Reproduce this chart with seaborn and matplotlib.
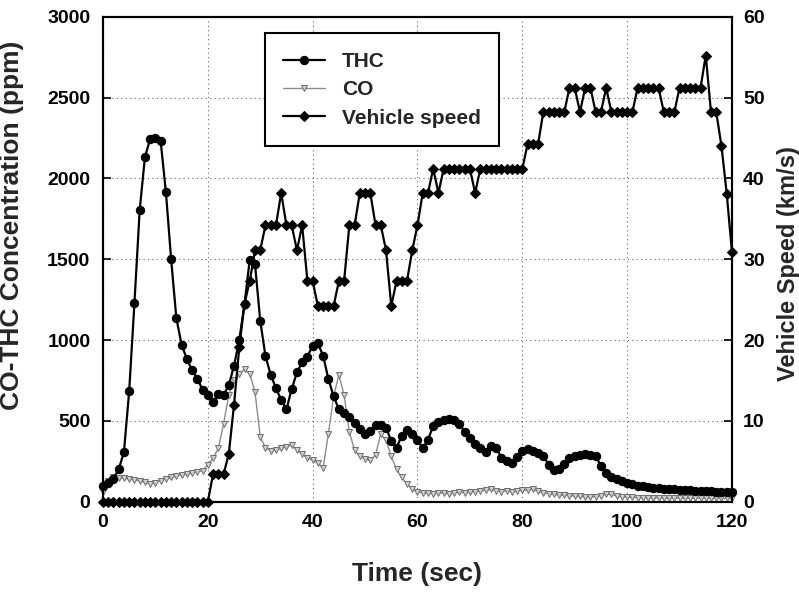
import numpy as np
import pandas as pd
import matplotlib
matplotlib.use("Agg")
import matplotlib.pyplot as plt
import seaborn as sns

# ---------------- data ----------------
time_sec = list(range(0, 121))

thc_ppm = [100, 115, 143, 200, 308, 686, 1229, 1803, 2131, 2244,
           2250, 2230, 1917, 1500, 1134, 971, 882, 814, 762, 692,
           659, 614, 669, 659, 721, 841, 1000, 1223, 1498, 1470,
           1120, 900, 785, 702, 630, 572, 696, 800, 862, 897,
           965, 979, 903, 760, 651, 572, 547, 527, 486, 448,
           421, 438, 475, 475, 459, 376, 335, 407, 444, 421,
           382, 331, 382, 470, 490, 505, 510, 505, 479, 432,
           397, 359, 331, 310, 345, 335, 273, 250, 242, 275,
           314, 324, 314, 304, 285, 230, 195, 200, 231, 273,
           283, 290, 293, 290, 283, 221, 175, 150, 138, 126,
           118, 110, 100, 95, 90, 86, 83, 80, 78, 76,
           74, 72, 70, 68, 67, 66, 64, 63, 62, 61, 60]

co_ppm = [60, 130, 150, 148, 145, 140, 135, 128, 120, 110,
          118, 130, 140, 150, 160, 165, 170, 178, 185, 192,
          230, 270, 330, 480, 660, 750, 790, 820, 790, 680,
          400, 335, 315, 318, 330, 340, 350, 320, 295, 270,
          256, 240, 210, 420, 650, 785, 660, 430, 320, 280,
          265, 255, 290, 420, 380, 280, 200, 150, 110, 80,
          60, 55, 52, 50, 55, 52, 50, 55, 58, 55,
          60, 62, 65, 72, 76, 68, 62, 66, 62, 65,
          70, 72, 76, 65, 55, 50, 45, 42, 40, 38,
          35, 33, 30, 30, 32, 38, 45, 45, 35, 30,
          28, 27, 26, 25, 25, 24, 24, 23, 23, 22,
          22, 22, 21, 21, 21, 20, 20, 20, 20, 20, 20]

speed_kms = [0, 0, 0, 0, 0, 0, 0, 0, 0, 0,
             0, 0, 0, 0, 0, 0, 0, 0, 0, 0,
             0, 3.4, 3.4, 3.4, 5.9, 12.0, 19.1, 24.5, 27.3, 31.1,
             31.1, 34.2, 34.2, 34.2, 38.2, 34.2, 34.2, 31.1, 34.2, 27.3,
             27.3, 24.2, 24.2, 24.2, 24.2, 27.3, 27.3, 34.2, 34.2, 38.2,
             38.2, 38.2, 34.2, 34.2, 31.1, 24.2, 27.3, 27.3, 27.3, 31.1,
             34.2, 38.2, 38.2, 41.2, 38.2, 41.2, 41.2, 41.2, 41.2, 41.2,
             41.2, 38.2, 41.2, 41.2, 41.2, 41.2, 41.2, 41.2, 41.2, 41.2,
             41.2, 44.2, 44.2, 44.2, 48.2, 48.2, 48.2, 48.2, 48.2, 51.2,
             51.2, 48.2, 51.2, 51.2, 48.2, 48.2, 51.2, 48.2, 48.2, 48.2,
             48.2, 48.2, 51.2, 51.2, 51.2, 51.2, 51.2, 48.2, 48.2, 48.2,
             51.2, 51.2, 51.2, 51.2, 51.2, 55.2, 48.2, 48.2, 44.0, 38.1, 30.9]

x_ticks = [0, 20, 40, 60, 80, 100, 120]
left_ticks = [0, 500, 1000, 1500, 2000, 2500, 3000]
right_ticks = [0, 10, 20, 30, 40, 50, 60]
legend_labels = ["THC", "CO", "Vehicle speed"]

df = pd.DataFrame({"t": time_sec, "THC": thc_ppm, "CO": co_ppm, "speed": speed_kms})

# ---------------- style ----------------
sns.set_style("white")
plt.rcParams["font.family"] = ["Liberation Sans", "DejaVu Sans"]
plt.rcParams["font.weight"] = "bold"
plt.rcParams["axes.labelweight"] = "bold"

fig = plt.figure(figsize=(7.99, 5.95), dpi=100)
ax = fig.add_axes([0.1289, 0.1568, 0.7872, 0.8151])
ax2 = ax.twinx()

sns.lineplot(data=df, x="t", y="CO", ax=ax, color="#8c8c8c", linewidth=1.0,
             marker="v", markersize=4.5, markerfacecolor="#cfcfcf",
             markeredgecolor="#6e6e6e", markeredgewidth=0.7, clip_on=False, zorder=3)
sns.lineplot(data=df, x="t", y="THC", ax=ax, color="black", linewidth=1.6,
             marker="o", markersize=6, markerfacecolor="black",
             markeredgecolor="black", clip_on=False, zorder=4)
sns.lineplot(data=df, x="t", y="speed", ax=ax2, color="black", linewidth=1.6,
             marker="D", markersize=5, markerfacecolor="black",
             markeredgecolor="black", clip_on=False, zorder=4)

ax.set_xlim(0, 120)
ax.set_ylim(0, 3000)
ax2.set_ylim(0, 60)
ax.set_xticks(x_ticks)
ax.set_yticks(left_ticks)
ax2.set_yticks(right_ticks)

ax.grid(True, linestyle=(0, (1, 3)), color="#666666", linewidth=0.8)
ax2.grid(False)

for a in (ax, ax2):
    for s in a.spines.values():
        s.set_linewidth(1.5)
        s.set_color("black")

ax.tick_params(axis="both", direction="in", length=6, width=1.2,
               labelsize=14, colors="black", top=False, right=False)
ax.tick_params(axis="x", pad=9)
ax.tick_params(axis="y", pad=9)
ax2.tick_params(axis="y", direction="in", length=6, width=1.2,
                labelsize=14, colors="black", pad=8, left=False, right=True)

ax.set_xlabel("Time (sec)", fontsize=19, labelpad=22)
ax.set_ylabel("CO-THC Concentration (ppm)", fontsize=19)
ax.yaxis.set_label_coords(-0.126, 0.57)
ax2.set_ylabel("Vehicle Speed (km/s)", fontsize=17)
ax2.yaxis.set_label_coords(1.071, 0.49)

handles = [ax.lines[1], ax.lines[0], ax2.lines[0]]
leg = ax2.legend(handles, legend_labels, loc="upper left",
                 bbox_to_anchor=(0.257, 0.966), borderaxespad=0,
                 frameon=True, fancybox=False, edgecolor="black", framealpha=1,
                 prop={"size": 15, "weight": "bold"}, handlelength=2.0,
                 handletextpad=0.8, borderpad=0.9, labelspacing=0.45)
leg.get_frame().set_linewidth(1.5)

fig.savefig("out.png", dpi=100)
